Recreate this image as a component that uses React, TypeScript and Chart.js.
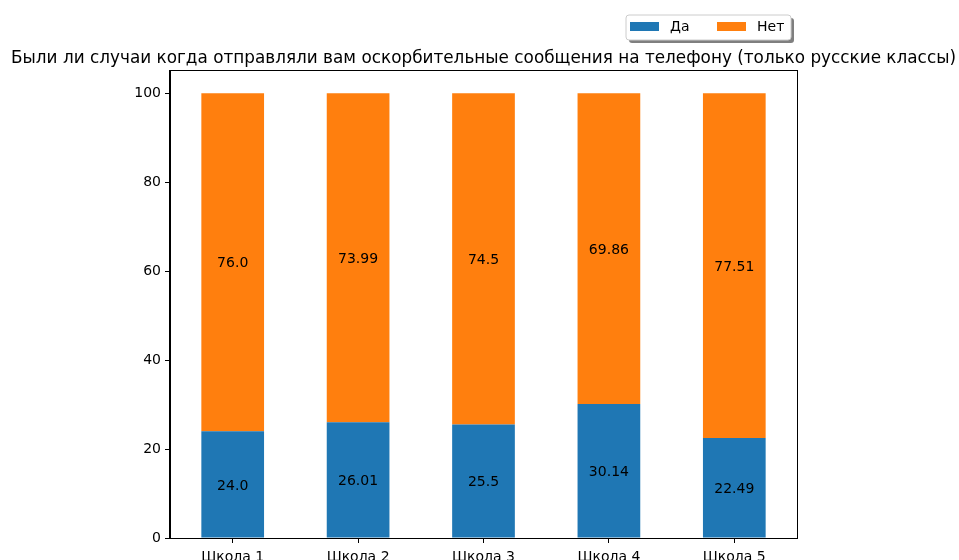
import React, { useEffect, useRef } from "react";
import { Chart, registerables } from "chart.js";

Chart.register(...registerables);

const categories = ["Школа 1", "Школа 2", "Школа 3", "Школа 4", "Школа 5"];
const yesValues = [24.0, 26.01, 25.5, 30.14, 22.49];
const noValues = [76.0, 73.99, 74.5, 69.86, 77.51];
const seriesNames = ["Да", "Нет"];
const seriesColors = ["#1f77b4", "#ff7f0e"];
const yTicks = [0, 20, 40, 60, 80, 100];
const titleText =
  "Были ли случаи когда отправляли вам оскорбительные сообщения на телефону (только русские классы)";

const FONT = "'DejaVu Sans', sans-serif";

const fmt = (v: number) => (Number.isInteger(v) ? v.toFixed(1) : String(v));

const decorPlugin = {
  id: "decor",
  afterDatasetsDraw(chart: any) {
    const ctx = chart.ctx;
    const { left, right, top, bottom } = chart.chartArea;
    ctx.save();
    // value labels
    ctx.font = `14px ${FONT}`;
    ctx.fillStyle = "#000";
    ctx.textAlign = "center";
    ctx.textBaseline = "middle";
    chart.data.datasets.forEach((ds: any, di: number) => {
      const meta = chart.getDatasetMeta(di);
      meta.data.forEach((el: any, i: number) => {
        const c = el.getCenterPoint();
        ctx.fillText(fmt(ds.data[i]), c.x, c.y + 1.5);
      });
    });
    // frame
    ctx.strokeStyle = "#000";
    ctx.lineWidth = 1;
    ctx.strokeRect(Math.round(left) - 0.5, Math.round(top) - 0.5, Math.round(right - left) + 1, Math.round(bottom - top) + 1);
    // title
    ctx.font = `17px ${FONT}`;
    ctx.textBaseline = "alphabetic";
    ctx.textAlign = "center";
    ctx.fillText(titleText, (left + right) / 2, 63, 945);
    // legend
    const lx = 626, ly = 15, lw = 165, lh = 25;
    const rr = (x: number, y: number, w: number, h: number, r: number) => {
      ctx.beginPath();
      ctx.moveTo(x + r, y);
      ctx.lineTo(x + w - r, y);
      ctx.quadraticCurveTo(x + w, y, x + w, y + r);
      ctx.lineTo(x + w, y + h - r);
      ctx.quadraticCurveTo(x + w, y + h, x + w - r, y + h);
      ctx.lineTo(x + r, y + h);
      ctx.quadraticCurveTo(x, y + h, x, y + h - r);
      ctx.lineTo(x, y + r);
      ctx.quadraticCurveTo(x, y, x + r, y);
      ctx.closePath();
    };
    rr(lx + 3, ly + 3, lw, lh, 3);
    ctx.fillStyle = "rgba(0,0,0,0.5)";
    ctx.fill();
    rr(lx, ly, lw, lh, 3);
    ctx.fillStyle = "#fff";
    ctx.fill();
    ctx.strokeStyle = "#cccccc";
    ctx.stroke();
    ctx.fillStyle = seriesColors[0];
    ctx.fillRect(630, 22, 29, 9);
    ctx.fillStyle = seriesColors[1];
    ctx.fillRect(717, 22, 29, 9);
    ctx.fillStyle = "#000";
    ctx.font = `14px ${FONT}`;
    ctx.textAlign = "left";
    ctx.textBaseline = "middle";
    ctx.fillText(seriesNames[0], 670, 27);
    ctx.fillText(seriesNames[1], 757, 27);
    ctx.restore();
  },
};

export default function App() {
  const ref = useRef<HTMLCanvasElement | null>(null);
  useEffect(() => {
    if (!ref.current) return;
    const chart = new Chart(ref.current, {
      type: "bar",
      data: {
        labels: categories,
        datasets: [
          { label: seriesNames[0], data: yesValues, backgroundColor: seriesColors[0], borderWidth: 0 },
          { label: seriesNames[1], data: noValues, backgroundColor: seriesColors[1], borderWidth: 0 },
        ],
      },
      options: {
        animation: false,
        responsive: false,
        layout: { padding: { left: 0, right: 162, top: 71, bottom: 0 } },
        plugins: { legend: { display: false }, title: { display: false }, tooltip: { enabled: false } },
        datasets: { bar: { categoryPercentage: 0.5, barPercentage: 1 } },
        scales: {
          x: {
            stacked: true,
            afterFit: (s: any) => { s.height = 22; },
            grid: { offset: false, drawOnChartArea: false, drawTicks: true, tickLength: 5, color: "#000" },
            border: { color: "#000" },
            ticks: { color: "#000", font: { family: FONT, size: 14 }, padding: 6, maxRotation: 0 },
          },
          y: {
            stacked: true,
            min: 0,
            max: 105,
            afterFit: (s: any) => { s.width = 170; },
            afterBuildTicks: (s: any) => { s.ticks = yTicks.map((v) => ({ value: v })); },
            grid: { drawOnChartArea: false, drawTicks: true, tickLength: 5, color: "#000" },
            border: { color: "#000" },
            ticks: { color: "#000", font: { family: FONT, size: 14 }, padding: 4 },
          },
        },
      },
      plugins: [decorPlugin],
    } as any);
    return () => chart.destroy();
  }, []);
  return (
    <div style={{ position: "fixed", left: 0, top: 0, width: 959, height: 560, background: "#fff" }}>
      <canvas ref={ref} width={959} height={560} style={{ width: 959, height: 560, display: "block" }} />
    </div>
  );
}
